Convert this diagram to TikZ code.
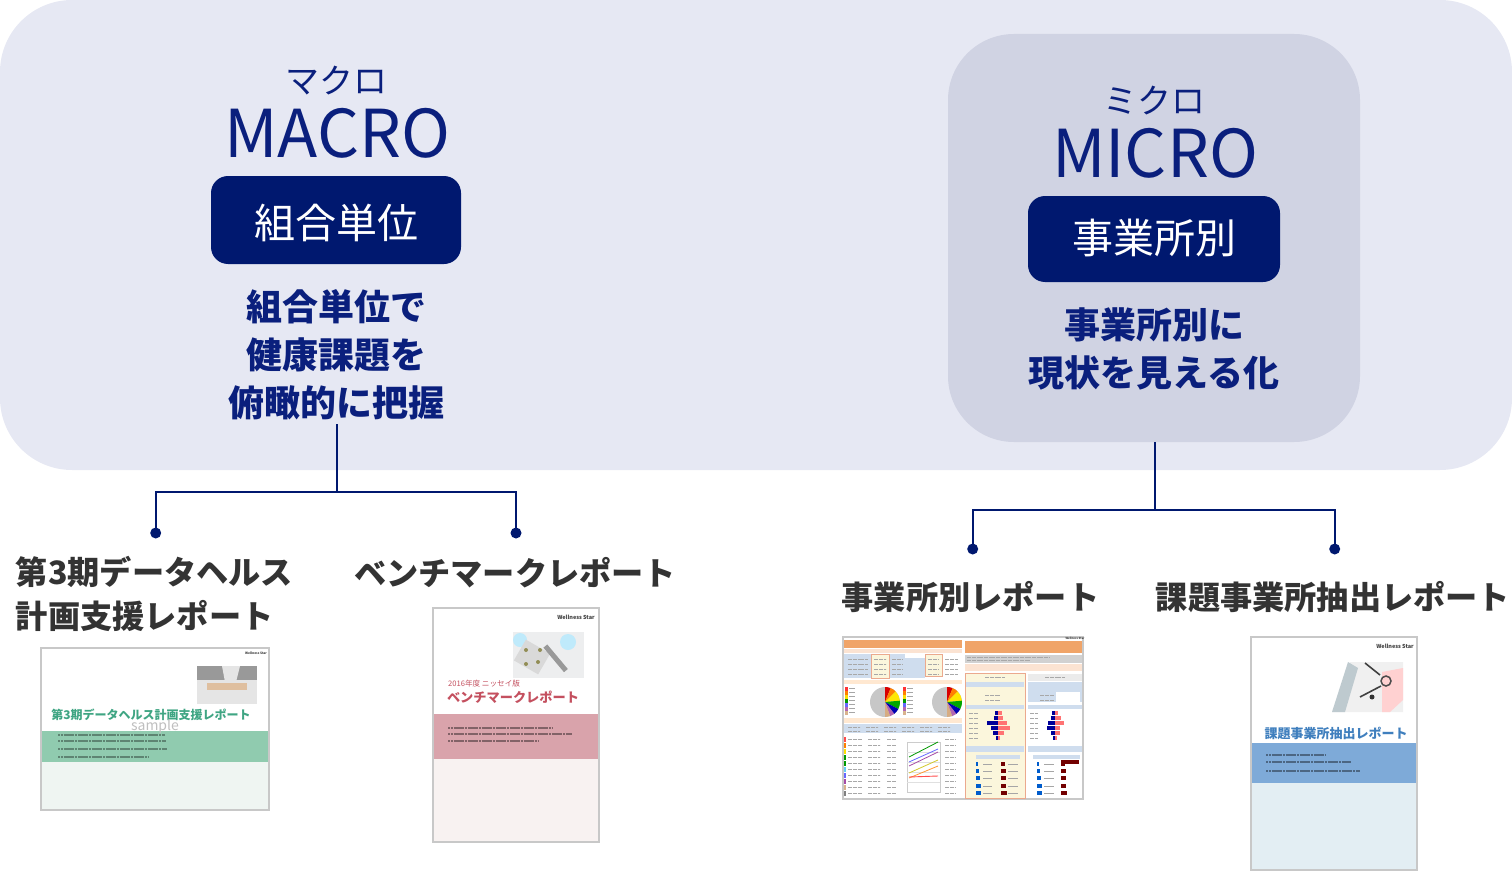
\documentclass[tikz,border=0pt]{standalone}
\usepackage{fontspec}
\setmainfont{Noto Sans CJK JP}
\usetikzlibrary{positioning}
\definecolor{bgpanel}{HTML}{E6E8F3}
\definecolor{micropanel}{HTML}{D0D3E3}
\definecolor{navy}{HTML}{00186F}
\definecolor{ink}{HTML}{0A1F7D}
\definecolor{dark}{HTML}{333333}
\definecolor{edgegray}{HTML}{C8C8C8}
\definecolor{greenband}{HTML}{90CBAF}
\definecolor{pinkband}{HTML}{D9A3AB}
\definecolor{blueband}{HTML}{7EAAD8}
\definecolor{orangeh}{HTML}{F0A468}
\definecolor{palegreen}{HTML}{EFF5F2}
\definecolor{palepink}{HTML}{F8F2F1}
\definecolor{paleblue}{HTML}{E3EEF3}
\definecolor{titlegreen}{HTML}{3FA583}
\definecolor{titlered}{HTML}{C4505F}
\definecolor{titleblue}{HTML}{3F7FBE}
\definecolor{paleyellow}{HTML}{FBF6DC}
\definecolor{salmon}{HTML}{EBA98E}
\definecolor{paleorange}{HTML}{FBE3D2}
\definecolor{tblue}{HTML}{CFDDEE}
\definecolor{rowgray}{HTML}{A8A8A8}
\newcommand{\fsz}[1]{\fontsize{#1pt}{#1pt}\selectfont}
\tikzset{
  x=1pt,y=-1pt,
  kana/.style={text=ink,font=\fsz{34},inner sep=0pt},
  bigword/.style={text=ink,font=\fsz{66},inner sep=0pt},
  pill/.style={fill=navy,rounded corners=17pt,text=white,font=\fsz{41},inner sep=0pt,align=center},
  lead/.style={text=ink,font=\bfseries\fsz{36},align=center,inner sep=0pt},
  report/.style={text=dark,font=\bfseries\fsz{32.2},align=left,inner sep=0pt},
  link/.style={draw=navy,line width=1.6pt},
  dot/.style={circle,fill=navy,minimum size=11pt,inner sep=0pt},
  thumb/.style={fill=white,draw=edgegray,line width=1.6pt},
  logo/.style={inner sep=0pt,text=black!75,font=\bfseries\fsz{#1}},
  tinytext/.style={line width=1.3pt,draw=#1,dash pattern=on 2.4pt off .4pt},
  cell/.style={line width=1pt,draw=rowgray,dash pattern=on 2pt off .4pt},
}
\begin{document}
\begin{tikzpicture}
\useasboundingbox (0,0) rectangle (1512,872);
\fill[bgpanel,rounded corners=72pt] (0,0) rectangle (1512,470);
\fill[micropanel,rounded corners=66pt] (948,34) rectangle (1360,442);

% MACRO
\node[kana] (mkana) at (336,81) {マクロ};
\node[bigword] (mword) at (337,133) {MACRO};
\node[pill,minimum width=250pt,minimum height=88pt,text height=37pt,text depth=0pt] (mpill) at (336,220) {組合単位};
\node[lead] (mlead) at (336,354.5) {組合単位で\\[12pt]健康課題を\\[12pt]俯瞰的に把握};

% MICRO
\node[kana] (ukana) at (1154,101) {ミクロ};
\node[bigword] (uword) at (1155,153) {MICRO};
\node[pill,minimum width=252pt,minimum height=86pt,text height=29pt,text depth=0pt] (upill) at (1154,239) {事業所別};
\node[lead] (ulead) at (1154,349) {事業所別に\\[12pt]現状を見える化};

% connectors left
\coordinate (mtop) at (337,424);
\coordinate (mjoin) at (337,492);
\node[dot] (d1) at (155.7,533) {};
\node[dot] (d2) at (516,533) {};
\draw[link] (mtop) -- (mjoin);
\draw[link] (d1.center) |- (mjoin) -| (d2.center);
% connectors right
\coordinate (utop) at (1155,442);
\coordinate (ujoin) at (1155,510);
\node[dot] (d3) at (972.7,549) {};
\node[dot] (d4) at (1334.7,549) {};
\draw[link] (utop) -- (ujoin);
\draw[link] (d3.center) |- (ujoin) -| (d4.center);

% report labels
\node[report] (r1) at (154.5,593.5) {第3期データヘルス\\[11.8pt]計画支援レポート};
\node[report] (r2) at (515,573) {ベンチマークレポート};
\node[report] (r3) at (970.5,597) {事業所別レポート};
\node[report] (r4) at (1333,597) {課題事業所抽出レポート};

% ---------- thumbnail 1
\draw[thumb] (41,648) rectangle (269,810);
\fill[greenband] (42,731) rectangle (268,762);
\fill[palegreen] (42,762) rectangle (268,809);
\fill[black!40] (197,666) rectangle (257,680);
\fill[black!10] (197,680) rectangle (257,704);
\fill[black!10] (222,666) -- (240,666) -- (236,682) -- (225,682) -- cycle;
\fill[brown!50] (207,683) rectangle (247,690);
\node[logo=3.2] (w1) at (256,653.5) {Wellness Star};
\node[inner sep=0pt,text=titlegreen,font=\bfseries\fsz{12}] (t1) at (151,714.5) {第3期データヘルス計画支援レポート};
\node[inner sep=0pt,text=black!25,font=\fsz{14}] (s1) at (155,727) {sample};
\draw[tinytext=black!35!greenband] (58,735) -- (165,735);
\draw[tinytext=black!35!greenband] (58,741) -- (166,741);
\draw[tinytext=black!35!greenband] (58,749) -- (167,749);
\draw[tinytext=black!35!greenband] (58,757) -- (148,757);

% ---------- thumbnail 2
\draw[thumb] (433,608) rectangle (599,842);
\fill[pinkband] (434,714) rectangle (598,759);
\fill[palepink] (434,759) rectangle (598,841);
\fill[cyan!10!black!8] (513,632) rectangle (584,678);
\fill[cyan!25] (520,640) circle [radius=7];
\fill[cyan!25] (568,642) circle [radius=8];
\fill[black!15,rotate around={-30:(532,657)}] (518,645) rectangle (546,669);
\foreach \dx/\dy in {526/650,540/650,526/664,538/662}{\fill[olive!60!black!70] (\dx,\dy) circle [radius=2];}
\fill[black!40,rotate around={-50:(556,658)}] (540,656) rectangle (572,661);
\node[logo=5.5] (w2) at (576,617) {Wellness Star};
\node[inner sep=0pt,anchor=west,text=titlered,font=\fsz{7.6}] (y2) at (448,684) {2016年度 ニッセイ版};
\node[inner sep=0pt,text=titlered,font=\bfseries\fsz{13.2}] (t2) at (513,697) {ベンチマークレポート};
\draw[tinytext=black!40!pinkband] (448,728) -- (553,728);
\draw[tinytext=black!40!pinkband] (448,734) -- (572,734);
\draw[tinytext=black!40!pinkband] (448,741) -- (538,741);

% ---------- thumbnail 3
\draw[thumb] (843,637) rectangle (1083,799);
\node[logo=2.8] (w3) at (1075,638.5) {Wellness Star};
\fill[orangeh] (844,640) rectangle (962,648);
\fill[orangeh] (965,641) rectangle (1082,653);
\fill[paleorange] (844,649) rectangle (962,653);
% top tables
\fill[tblue] (844,654) rectangle (871,678);
\fill[tblue] (889,654) rectangle (905,678);
\fill[tblue] (905,658) rectangle (925,678);
\filldraw[fill=paleyellow,draw=salmon,line width=.8pt] (871,654) rectangle (889,678);
\filldraw[fill=paleyellow,draw=salmon,line width=.8pt] (925,654) rectangle (942,676);
\foreach \y in {659,664,669,674}{
  \draw[cell] (848,\y) -- (868,\y);
  \draw[cell] (874,\y) -- (886,\y);
  \draw[cell] (892,\y) -- (903,\y);
  \draw[cell] (928,\y) -- (939,\y);
  \draw[cell] (945,\y) -- (958,\y);}
\fill[black!18] (965,655) rectangle (1082,663);
\draw[cell] (967,657) -- (1050,657);
\draw[cell] (967,660.5) -- (1030,660.5);
\fill[paleorange] (965,664) rectangle (1082,671);
% right column panels
\filldraw[fill=paleyellow,draw=salmon,line width=.9pt] (965,673) rectangle (1025,798);
\fill[tblue] (1028,682) rectangle (1082,702);
\fill[white] (1056,692) rectangle (1080,702);
\foreach \a/\b in {966/1024,1028/1082}{
  \fill[tblue] (\a,682) rectangle (\b,687);
  \fill[tblue] (\a,705) rectangle (\b,709);
  \fill[tblue] (\a,746) rectangle (\b,752);}
\fill[black!8] (1028,674) rectangle (1082,681);
\draw[cell] (985,677) -- (1005,677);
\draw[cell] (1045,677) -- (1065,677);
\draw[cell] (985,695) -- (1000,695);
\draw[cell] (985,700) -- (1000,700);
\draw[cell] (1040,695) -- (1054,695);
\draw[cell] (1040,700) -- (1054,700);
\fill[orange!18] (844,680) rectangle (962,684);
\fill[orange!18] (844,718) rectangle (962,723);
% pies: angles run clockwise on the page because y is flipped
\foreach \cx/\cy in {885/702,947/702}{
  \fill[black!22] (\cx,\cy) circle [radius=15];
  \foreach \s/\e/\c in {-90/-68/red!85!black,-68/-45/orange,-45/-5/yellow!90!orange,-5/28/green!65!black,28/52/blue!70!black,52/70/violet!60,70/90/brown!65}{
    \fill[\c] (\cx,\cy) -- ++(\s:15) arc[start angle=\s,end angle=\e,radius=15] -- cycle;}
}
% pie legends
\foreach \lx in {845,903}{
  \foreach \y/\c in {687/red!80,691/orange,695/yellow!80!orange,699/green!60!black,703/blue!60,707/violet!60,711/brown!60}{
    \fill[\c] (\lx,\y) rectangle (\lx+3,\y+3.5);
    \draw[line width=.7pt,draw=black!35] (\lx+4,\y+1.7) -- (\lx+10,\y+1.7);}}
% lower table
\fill[tblue] (844,724) rectangle (962,733);
\foreach \x in {848,866,884,902,920,938}{\draw[cell] (\x,727) -- (\x+12,727); \draw[cell] (\x,731) -- (\x+12,731);}
\foreach \y/\c in {739/red!70,745/orange,751/yellow!80!orange,757/green!60!black,763/green!60!black,769/cyan!60,775/blue!60,781/violet!70,787/brown!60,793/black!50}{
  \fill[\c] (844,\y-2.5) rectangle (846,\y+2.5);
  \draw[cell] (848,\y) -- (862,\y);
  \draw[cell] (868,\y) -- (880,\y);
  \draw[cell] (887,\y) -- (896,\y);
  \draw[cell] (945,\y) -- (956,\y);}
% line chart
\draw[draw=black!20,line width=.5pt] (907,742) rectangle (940,792);
\foreach \y in {752,762,772,782}{\draw[draw=black!12,line width=.4pt] (907,\y) -- (940,\y);}
\draw[line width=.8pt,draw=green!60!black] (909,757) -- (938,742);
\draw[line width=.8pt,draw=blue!60] (909,762) -- (938,749);
\draw[line width=.8pt,draw=violet!70] (909,766) -- (938,752);
\draw[line width=.8pt,draw=yellow!80!black] (909,773) -- (938,760);
\draw[line width=.8pt,draw=orange!80] (909,778) -- (938,766);
\draw[line width=.9pt,draw=red!70] (909,777) -- (938,776);
% butterfly bars
\foreach \cy/\a/\b in {713/3/4,718/4/5,723/11/9,728/7/12,733/5/6,738/2/2}{
  \fill[blue!60!black] (998-\a,\cy-2) rectangle (998,\cy+2);
  \fill[red!55] (998,\cy-2) rectangle (998+\b,\cy+2);}
\foreach \cy/\a/\b in {713/3/3,718/4/6,723/7/9,728/8/5,733/4/5,738/2/2}{
  \fill[blue!60!black] (1055-\a,\cy-2) rectangle (1055,\cy+2);
  \fill[red!55] (1055,\cy-2) rectangle (1055+\b,\cy+2);}
\foreach \cy in {713,718,723,728,733,738}{\draw[cell] (969,\cy) -- (978,\cy); \draw[cell] (1030,\cy) -- (1038,\cy);}
% lower bars
\foreach \cy/\a/\b in {764/2/4,771/3/5,778/4/5,786/5/5,793/5/6}{
  \fill[blue!55!cyan!80!black] (976,\cy-2) rectangle (976+\a,\cy+2);
  \fill[red!45!black] (1001,\cy-2) rectangle (1001+\b,\cy+2);
  \fill[blue!55!cyan!80!black] (1037,\cy-2) rectangle (1037+\a,\cy+2);
  \fill[red!45!black] (1061,\cy-2) rectangle (1061+\b,\cy+2);
  \draw[line width=.7pt,draw=black!35] (983,\cy) -- (992,\cy);
  \draw[line width=.7pt,draw=black!35] (1008,\cy) -- (1018,\cy);
  \draw[line width=.7pt,draw=black!35] (1044,\cy) -- (1054,\cy);}
\fill[red!45!black] (1061,760) rectangle (1079,764);
\fill[tblue] (976,755) rectangle (1020,759);
\fill[tblue] (1033,755) rectangle (1080,759);

% ---------- thumbnail 4
\draw[thumb] (1251,637) rectangle (1417,870);
\fill[blueband] (1252,743) rectangle (1416,783);
\fill[paleblue] (1252,783) rectangle (1416,869);
\fill[black!6] (1332,712) -- (1350,662) -- (1403,662) -- (1403,712) -- cycle;
\fill[cyan!30!black!30] (1332,712) -- (1348,662) -- (1358,668) -- (1345,712) -- cycle;
\fill[red!18] (1382,672) -- (1403,668) -- (1403,700) -- (1390,712) -- (1382,712) -- cycle;
\draw[black!70,line width=1.5pt] (1386,681) circle [radius=5];
\draw[black!75,line width=1.6pt] (1365,663) -- (1380,675) (1381,686) -- (1360,697);
\fill[black!80] (1372,697) circle [radius=2.5];
\node[logo=5.5] (w4) at (1395,646) {Wellness Star};
\node[inner sep=0pt,text=titleblue,font=\bfseries\fsz{13}] (t4) at (1336,733) {課題事業所抽出レポート};
\draw[tinytext=black!40!blueband] (1266,755) -- (1325,755);
\draw[tinytext=black!40!blueband] (1266,762) -- (1351,762);
\draw[tinytext=black!40!blueband] (1266,771) -- (1360,771);
\end{tikzpicture}
\end{document}
